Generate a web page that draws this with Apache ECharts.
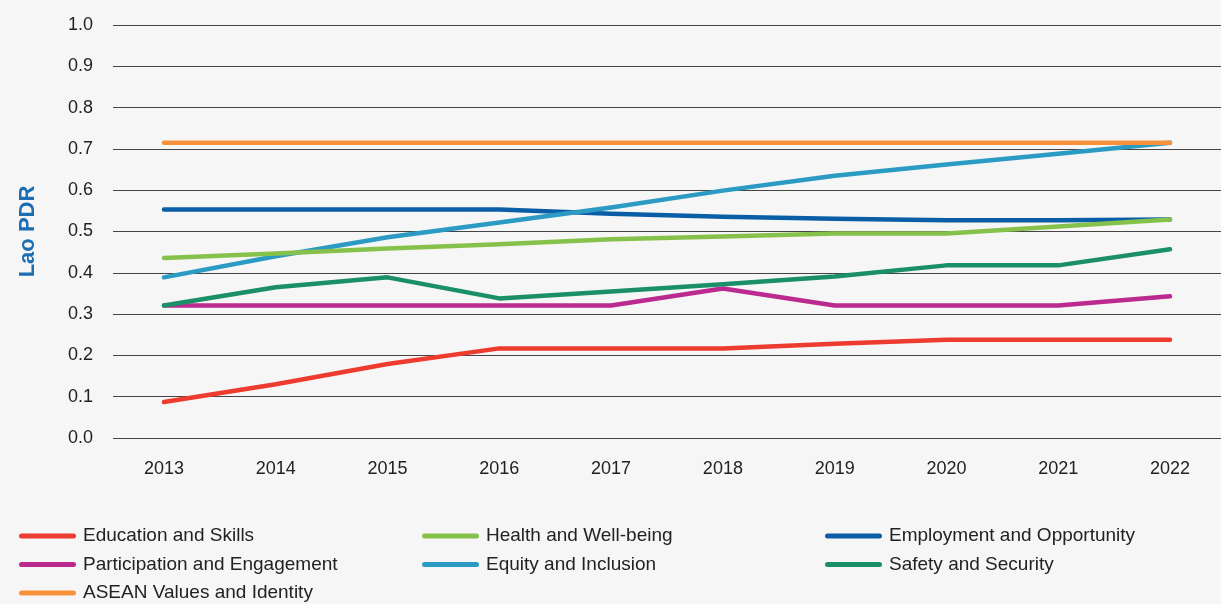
<!DOCTYPE html>
<html>
<head>
<meta charset="utf-8">
<title>Lao PDR</title>
<script src="https://cdn.jsdelivr.net/npm/echarts@6/dist/echarts.min.js"></script>
<style>
html,body{margin:0;padding:0;background:#f6f6f6;}
#main{width:1221px;height:604px;}
</style>
</head>
<body>
<div id="main"></div>
<script>
// years on the x axis
var years = [2013, 2014, 2015, 2016, 2017, 2018, 2019, 2020, 2021, 2022];

// index values
var education     = [0.087, 0.13, 0.179, 0.217, 0.217, 0.217, 0.228, 0.238, 0.238, 0.238];
var health        = [0.436, 0.447, 0.459, 0.469, 0.481, 0.488, 0.495, 0.495, 0.512, 0.529];
var employment    = [0.553, 0.553, 0.553, 0.553, 0.543, 0.536, 0.531, 0.527, 0.527, 0.529];
var participation = [0.321, 0.321, 0.321, 0.321, 0.321, 0.362, 0.321, 0.321, 0.321, 0.343];
var equity        = [0.389, 0.44, 0.486, 0.522, 0.558, 0.599, 0.635, 0.662, 0.688, 0.715];
var safety        = [0.321, 0.365, 0.389, 0.338, 0.355, 0.372, 0.391, 0.418, 0.418, 0.457];
var asean         = [0.715, 0.715, 0.715, 0.715, 0.715, 0.715, 0.715, 0.715, 0.715, 0.715];

var font = '"Liberation Sans", Arial, sans-serif';
var lineIcon = 'path://M2.5,0 H54.5 A2.5,2.5 0 0 1 54.5,5 H2.5 A2.5,2.5 0 0 1 2.5,0 Z';

function pairs(vals){
	return years.map(function(y, i){ return [y, vals[i]]; });
}

function mkSeries(name, vals, color){
	return {
		name: name,
		type: 'line',
		data: pairs(vals),
		color: color,
		showSymbol: false,
		symbol: 'none',
		animation: false,
		lineStyle: {width: 4.5, color: color, cap: 'round', join: 'round'}
	};
}

function mkLegend(left, names){
	return {
		orient: 'vertical',
		left: left,
		top: 526,
		padding: 0,
		itemWidth: 57,
		itemHeight: 5,
		itemGap: 8.5,
		icon: lineIcon,
		selectedMode: false,
		textStyle: {fontFamily: font, fontSize: 19, color: '#222', lineHeight: 20, padding: [0, 0, 0, 2]},
		data: names
	};
}

var chart = echarts.init(document.getElementById('main'));
chart.setOption({
	backgroundColor: '#f6f6f6',
	animation: false,
	grid: {left: 113, right: 0, top: 25, bottom: 166},
	legend: [
		mkLegend(19, ['Education and Skills', 'Participation and Engagement', 'ASEAN Values and Identity']),
		mkLegend(422, ['Health and Well-being', 'Equity and Inclusion']),
		mkLegend(825, ['Employment and Opportunity', 'Safety and Security'])
	],
	xAxis: {
		type: 'value',
		min: 2012.544,
		max: 2022.456,
		axisLine: {show: false},
		axisTick: {show: false},
		splitLine: {show: false},
		axisLabel: {
			customValues: years,
			margin: 22,
			fontFamily: font,
			fontSize: 18,
			color: '#222',
			formatter: function(v){ return String(v); }
		}
	},
	yAxis: {
		type: 'value',
		min: 0,
		max: 1,
		interval: 0.1,
		name: 'Lao PDR',
		nameLocation: 'middle',
		nameRotate: 90,
		nameGap: 74,
		nameTextStyle: {fontFamily: font, fontSize: 22, fontWeight: 'bold', color: '#1d6db3'},
		axisLine: {show: false},
		axisTick: {show: false},
		axisLabel: {
			margin: 20,
			fontFamily: font,
			fontSize: 18,
			color: '#222',
			formatter: function(v){ return v.toFixed(1); }
		},
		splitLine: {lineStyle: {color: '#444', width: 1}}
	},
	series: [
		mkSeries('Employment and Opportunity', employment, '#0a5ea8'),
		mkSeries('Education and Skills', education, '#ee3b30'),
		mkSeries('Participation and Engagement', participation, '#bb2a8e'),
		mkSeries('Equity and Inclusion', equity, '#2b9bc4'),
		mkSeries('Health and Well-being', health, '#86c24b'),
		mkSeries('Safety and Security', safety, '#1a8f68'),
		mkSeries('ASEAN Values and Identity', asean, '#f7923a')
	]
});
</script>
</body>
</html>
